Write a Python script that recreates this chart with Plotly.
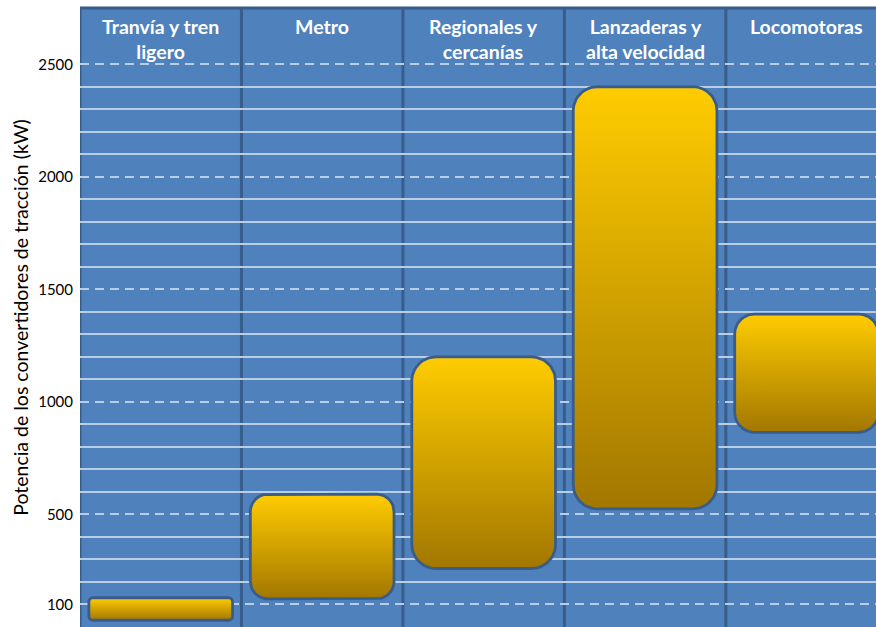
import numpy as np
import plotly.graph_objects as go

# Traction converter power ranges by vehicle class (kW)
categories = ["Tranvía y tren<br>ligero", "Metro", "Regionales y<br>cercanías",
              "Lanzaderas y<br>alta velocidad", "Locomotoras"]
power_min = [30, 125, 260, 525, 865]
power_max = [130, 590, 1200, 2400, 1390]
tick_values = [100, 500, 1000, 1500, 2000, 2500]
minor_values = [v for v in range(200, 2500, 100) if v % 500 != 0]

W, H = 876, 627
M_L, M_T, M_R, M_B = 80, 8, 0, 0
X_RANGE = [-0.5, 4.43]
Y_RANGE = [0, 2750]
BAR_WIDTH = 0.89

BG = "#4F81BD"
EDGE = "#385D8A"
GRID = "#B9CDE5"

# pixels per data unit, used to keep corner radii circular on screen
px_x = (W - M_L - M_R) / (X_RANGE[1] - X_RANGE[0])
px_y = (H - M_T - M_B) / (Y_RANGE[1] - Y_RANGE[0])


def rounded_rect(x0, x1, y0, y1, n=14):
    w_px = (x1 - x0) * px_x
    h_px = (y1 - y0) * px_y
    r = min(w_px, h_px) / 6.0
    rx, ry = r / px_x, r / px_y
    centers = [(x1 - rx, y1 - ry, 0), (x0 + rx, y1 - ry, 90),
               (x0 + rx, y0 + ry, 180), (x1 - rx, y0 + ry, 270)]
    xs, ys = [], []
    for cx, cy, a0 in centers:
        t = np.radians(np.linspace(a0, a0 + 90, n))
        xs.extend(cx + rx * np.cos(t))
        ys.extend(cy + ry * np.sin(t))
    xs.append(xs[0])
    ys.append(ys[0])
    return xs, ys


fig = go.Figure()

for i, (lo, hi) in enumerate(zip(power_min, power_max)):
    xs, ys = rounded_rect(i - BAR_WIDTH / 2, i + BAR_WIDTH / 2, lo, hi)
    fig.add_trace(go.Scatter(
        x=xs, y=ys, mode="lines", fill="toself",
        fillgradient=dict(type="vertical",
                          colorscale=[[0, "#A27700"], [1, "#FFCC00"]]),
        line=dict(color=EDGE, width=2.8),
        hoverinfo="skip", showlegend=False,
    ))

# column separators
shapes = []
for k in range(len(categories)):
    xv = k - 0.5
    shapes.append(dict(type="line", xref="x", yref="paper", x0=xv, x1=xv, y0=0, y1=1,
                       line=dict(color=EDGE, width=3), layer="between"))
shapes.append(dict(type="line", xref="paper", yref="paper", x0=0, x1=1, y0=1, y1=1,
                   line=dict(color=EDGE, width=3), layer="between"))

annotations = []
for i, name in enumerate(categories):
    annotations.append(dict(
        x=i, y=1, xref="x", yref="paper", yanchor="top", yshift=-5,
        text="<b>" + name + "</b>", showarrow=False,
        font=dict(family="Lato", size=19.5, color="white"),
    ))

fig.update_layout(
    width=W, height=H,
    margin=dict(l=M_L, r=M_R, t=M_T, b=M_B, pad=0),
    paper_bgcolor="white", plot_bgcolor=BG,
    shapes=shapes, annotations=annotations,
    xaxis=dict(range=X_RANGE, showgrid=False, zeroline=False, showticklabels=False,
               fixedrange=True),
    yaxis=dict(range=Y_RANGE, tickvals=tick_values, ticks="", zeroline=False,
               showgrid=True, gridcolor=GRID, gridwidth=2, griddash="9px,6px",
               minor=dict(tickvals=minor_values, showgrid=True, gridcolor=GRID,
                          gridwidth=2, griddash="solid"),
               tickfont=dict(family="Lato", size=15, color="black"),
               ticklabelstandoff=6,
               title=dict(text="Potencia de los convertidores de tracción (kW)",
                          font=dict(family="Lato", size=19.5, color="black"),
                          standoff=4),
               automargin=False, fixedrange=True),
)

fig.write_html("out.html")
